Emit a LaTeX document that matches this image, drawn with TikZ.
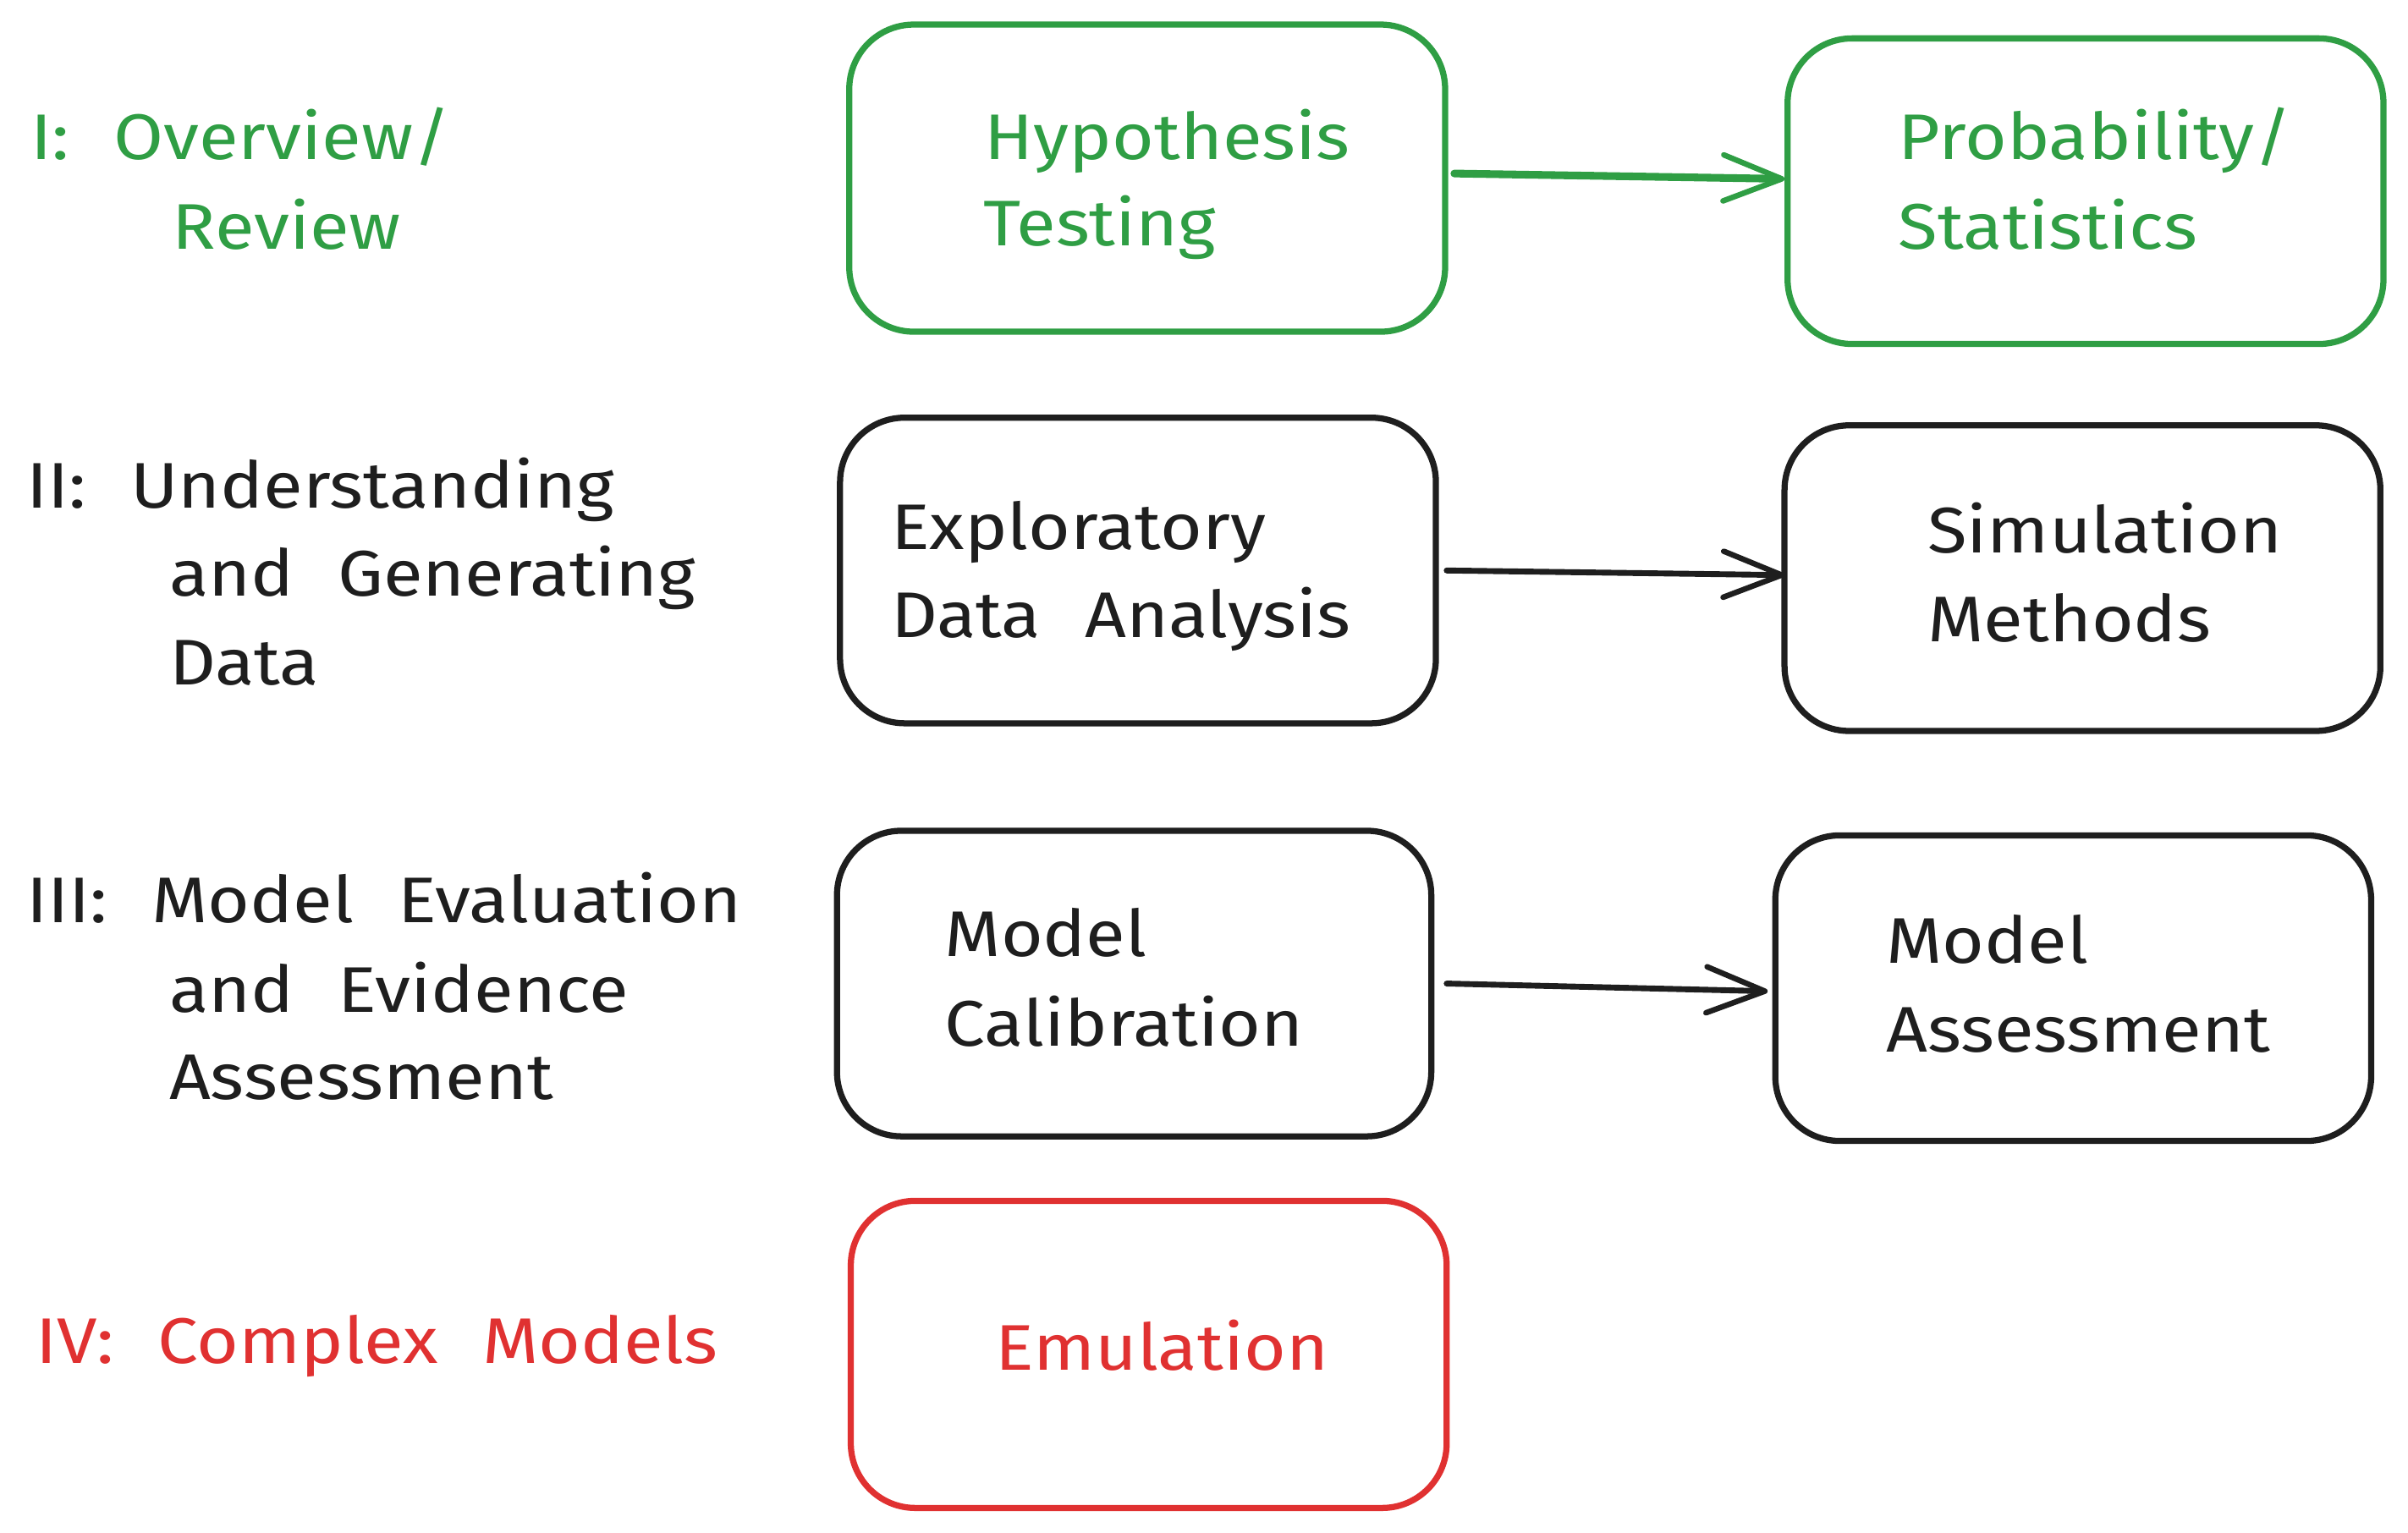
\documentclass[tikz,border=0pt]{standalone}
\usepackage{fontspec}
\setmainfont[FakeStretch=1.12,WordSpace=2.3]{Fira Sans}
\usetikzlibrary{arrows.meta}
\definecolor{exgreen}{HTML}{2F9E44}
\definecolor{exred}{HTML}{E03131}
\definecolor{exblack}{HTML}{1E1E1E}
\tikzset{
  box/.style={draw, line width=4pt, rounded corners=42pt, minimum width=388pt, minimum height=200pt, inner sep=0pt},
  txt/.style={anchor=base west, inner sep=0pt, font=\fontsize{42}{50}\selectfont},
  conn/.style={line width=3.8pt, line cap=round, -{Straight Barb[length=38pt,width=30pt,line width=3.6pt,round]}},
}
\begin{document}
\begin{tikzpicture}[x=1pt,y=-1pt]
\useasboundingbox (0,0) rectangle (1568,998);
% boxes
\node[box, exgreen] (ht)  at (747,116) {};
\node[box, exgreen, minimum height=199pt] (ps)  at (1358,124.5) {};
\node[box, exblack, minimum height=199pt] (eda) at (741,371.5) {};
\node[box, exblack, minimum height=199pt] (sm)  at (1356,376.5) {};
\node[box, exblack, minimum width=387pt, minimum height=199pt] (mc)  at (738.5,640.5) {};
\node[box, exblack, minimum height=199pt] (ma)  at (1350,643.5) {};
\node[box, exred] (em)  at (748,882) {};
% connectors
\draw[conn, exgreen, line width=5pt] ([xshift=4pt,yshift=3pt]ht.east) -- ([yshift=8pt]ps.west);
\draw[conn, exblack] ([xshift=5pt]eda.east) -- ([xshift=2pt,yshift=2pt]sm.west);
\draw[conn, exblack] ([xshift=8pt]mc.east) -- ([xshift=-3pt,yshift=-2pt]ma.west);
% left labels
\node[txt, exgreen] (l1a) at (20,104) {I: Overview/};
\node[txt, exgreen] (l1b) at (112,162) {Review};
\node[txt, exblack] (l2a) at (17,331) {II: Understanding};
\node[txt, exblack] (l2b) at (110,388) {and Generating};
\node[txt, exblack] (l2c) at (110,446) {Data};
\node[txt, exblack] (l3a) at (17,601) {III: Model Evaluation};
\node[txt, exblack] (l3b) at (110,659) {and Evidence};
\node[txt, exblack] (l3c) at (110,716) {Assessment};
\node[txt, exred] (l4a) at (23,888) {IV: Complex Models};
% box texts
\node[txt, exgreen] (t1a) at (641,104) {Hypothesis};
\node[txt, exgreen] (t1b) at (640,160) {Testing};
\node[txt, exgreen] (t2a) at (1236,104) {Probability/};
\node[txt, exgreen] (t2b) at (1236,162) {Statistics};
\node[txt, exblack] (t3a) at (580,358) {Exploratory};
\node[txt, exblack] (t3b) at (580,415) {Data Analysis};
\node[txt, exblack] (t4a) at (1255,360) {Simulation};
\node[txt, exblack] (t4b) at (1255,418) {Methods};
\node[txt, exblack] (t5a) at (615,623) {Model};
\node[txt, exblack] (t5b) at (615,681) {Calibration};
\node[txt, exblack] (t6a) at (1228,627) {Model};
\node[txt, exblack] (t6b) at (1228,685) {Assessment};
\node[txt, exred] (t7a) at (648,892) {Emulation};
\end{tikzpicture}
\end{document}
